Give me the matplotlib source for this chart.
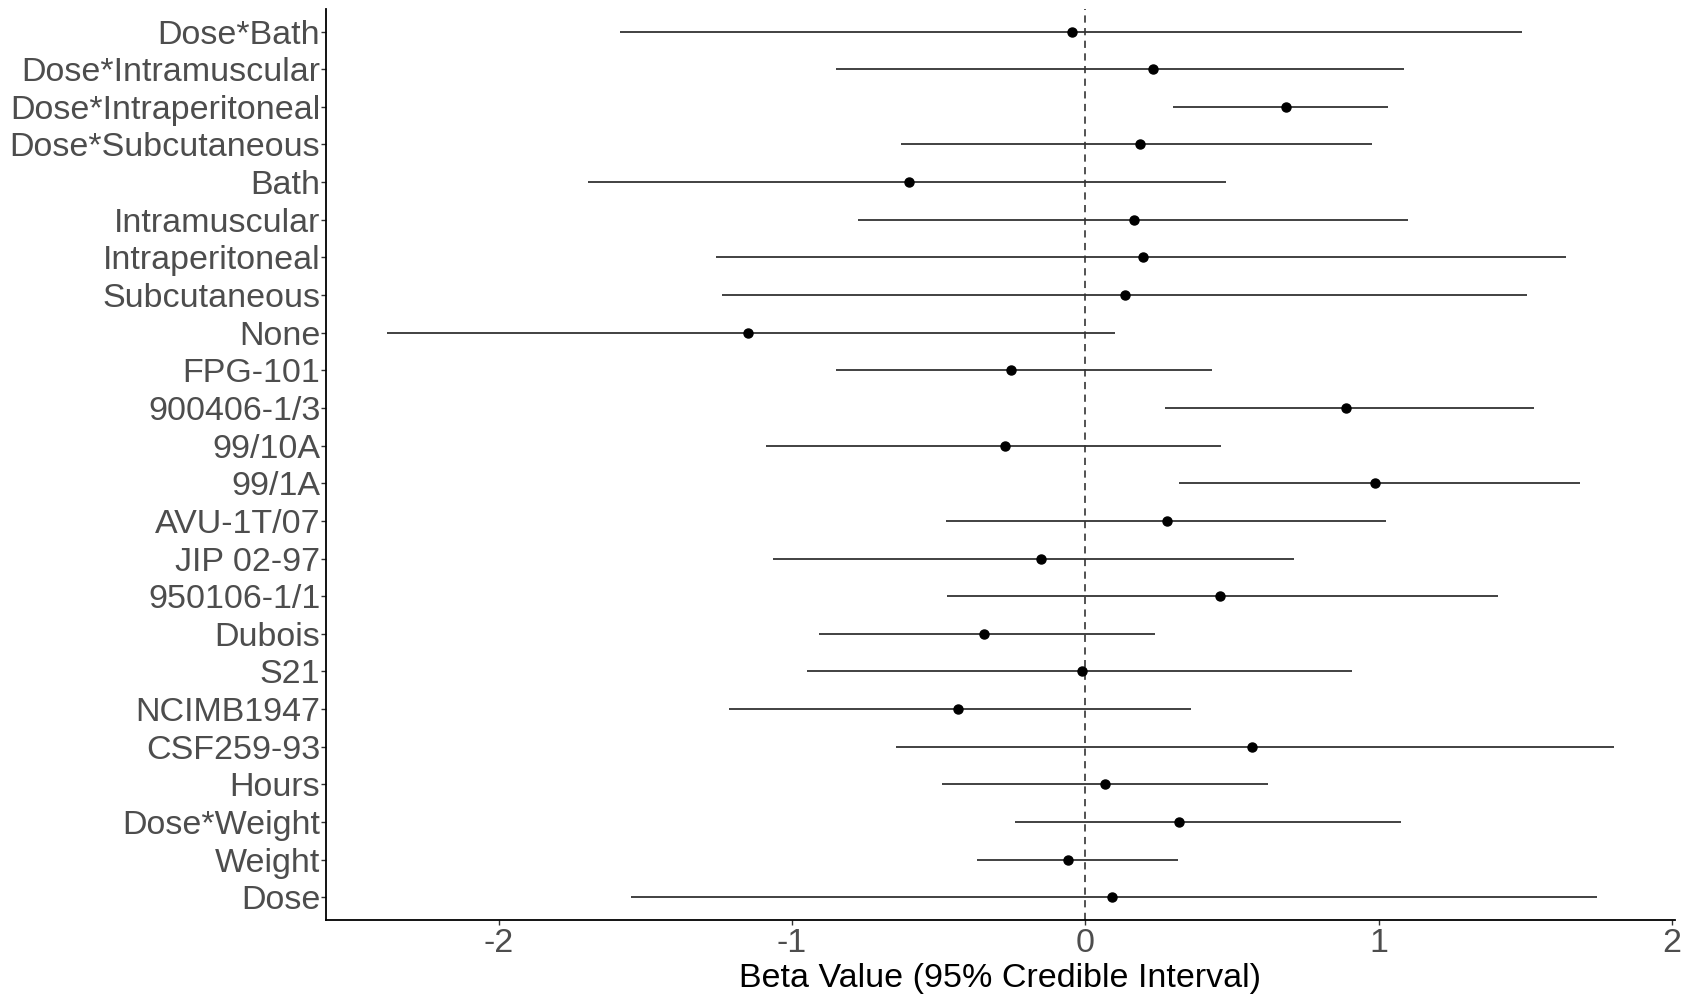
import matplotlib
matplotlib.use("Agg")
import matplotlib.pyplot as plt
import numpy as np

# Posterior summaries, listed bottom to top
terms = ["Dose", "Weight", "Dose*Weight", "Hours", "CSF259-93", "NCIMB1947", "S21",
         "Dubois", "950106-1/1", "JIP 02-97", "AVU-1T/07", "99/1A", "99/10A",
         "900406-1/3", "FPG-101", "None", "Subcutaneous", "Intraperitoneal",
         "Intramuscular", "Bath", "Dose*Subcutaneous", "Dose*Intraperitoneal",
         "Dose*Intramuscular", "Dose*Bath"]
beta = [0.092, -0.059, 0.321, 0.066, 0.568, -0.435, -0.011,
        -0.347, 0.458, -0.151, 0.277, 0.989, -0.273,
        0.889, -0.255, -1.151, 0.137, 0.196,
        0.166, -0.601, 0.185, 0.683,
        0.232, -0.044]
lower = [-1.550, -0.369, -0.240, -0.487, -0.646, -1.214, -0.948,
         -0.908, -0.472, -1.063, -0.476, 0.321, -1.089,
         0.273, -0.849, -2.380, -1.240, -1.258,
         -0.775, -1.697, -0.627, 0.299,
         -0.849, -1.587]
upper = [1.745, 0.317, 1.077, 0.624, 1.801, 0.362, 0.908,
         0.236, 1.406, 0.712, 1.026, 1.686, 0.461,
         1.531, 0.432, 0.100, 1.506, 1.638,
         1.100, 0.480, 0.978, 1.033,
         1.085, 1.487]

plt.rcParams["font.family"] = ["Liberation Sans", "DejaVu Sans"]

fig = plt.figure(figsize=(16.97, 9.94), dpi=100)
ax = fig.add_axes([0.192, 0.0745, 0.795, 0.9165])

y = np.arange(len(terms))
ax.hlines(y, lower, upper, color="#333333", linewidth=1.3, zorder=2)
ax.plot(beta, y, "o", color="black", markersize=6.5, zorder=3)
ax.axvline(0, color="#444444", linestyle=(0, (4, 3)), linewidth=1.3, zorder=1)

# 5% padding on x, 0.6 category padding on y
lo, hi = min(lower), max(upper)
pad = 0.05 * (hi - lo)
ax.set_xlim(lo - pad, hi + pad)
ax.set_ylim(-0.6, len(terms) - 0.4)

ax.set_yticks(y)
ax.set_yticklabels(terms)
ax.set_xticks([-2, -1, 0, 1, 2])
ax.set_xticklabels(["-2", "-1", "0", "1", "2"])
ax.tick_params(axis="both", labelsize=24.5, labelcolor="#4D4D4D", color="#333333",
               length=3.5, width=1)
ax.tick_params(axis="y", pad=0.5)
ax.tick_params(axis="x", pad=2)
ax.set_xlabel("Beta Value (95% Credible Interval)", fontsize=24.5, color="black", labelpad=3)

for side in ["top", "right"]:
    ax.spines[side].set_visible(False)
for side in ["left", "bottom"]:
    ax.spines[side].set_color("black")
    ax.spines[side].set_linewidth(1.3)

fig.savefig("out.png", dpi=100, facecolor="white")
